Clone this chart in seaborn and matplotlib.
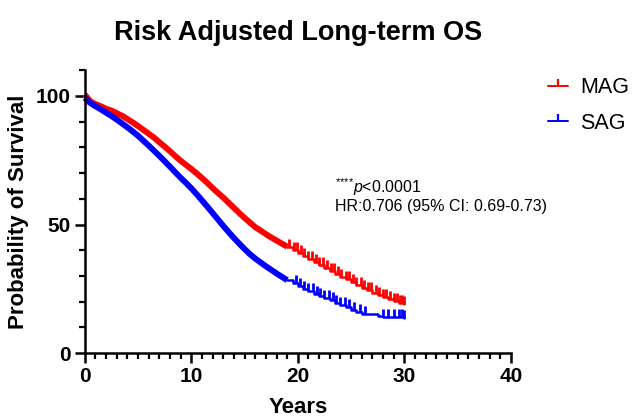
import numpy as np
import pandas as pd
import matplotlib
matplotlib.use("Agg")
import matplotlib.pyplot as plt
from matplotlib.lines import Line2D
from matplotlib.ticker import MultipleLocator
import seaborn as sns

# ---------------- data ----------------
years = [0, 0.5, 1, 1.5, 2, 2.5, 3, 3.5, 4, 4.5, 5, 5.5, 6, 6.5, 7, 7.5, 8, 8.5, 9, 9.5,
         10, 10.5, 11, 11.5, 12, 12.5, 13, 13.5, 14, 14.5, 15, 15.5, 16, 16.5, 17, 17.5,
         18, 18.5, 19, 19.5, 20, 20.5, 21, 21.5, 22, 22.5, 23, 23.5, 24, 24.5, 25, 25.5,
         26, 26.5, 27, 27.5, 28, 28.5, 29, 29.5, 30]
mag_surv = [100.5, 98, 96.8, 96, 95, 94.3, 93.3, 92.3, 91, 89.7, 88.3, 86.8, 85.3, 83.8, 82,
            80.3, 78.5, 76.6, 74.8, 73.2, 71.6, 69.9, 68.1, 66.2, 64.2, 62.3, 60.5, 58.5,
            56.5, 54.5, 52.6, 50.8, 49, 47.7, 46.3, 45, 43.8, 42.6, 41.4, 40.3, 39, 37.8,
            36.6, 35.4, 34.2, 33.2, 32, 30.9, 29.8, 28.7, 27.6, 26.5, 25.5, 24.5, 23.5,
            22.6, 21.8, 21, 20.3, 19.6, 19.0]
sag_surv = [99.3, 97.3, 96, 94.8, 93.5, 92.2, 90.8, 89.3, 87.8, 86.2, 84.5, 82.6, 80.7, 78.7,
            76.7, 74.6, 72.5, 70.3, 68.2, 66.2, 64.1, 61.8, 59.4, 57, 54.5, 52, 49.5, 47.1,
            44.8, 42.6, 40.5, 38.5, 36.8, 35.3, 33.8, 32.4, 31, 29.7, 28.4, 27.2, 26, 25,
            24, 23.1, 22.2, 21.4, 20.5, 19.6, 18.7, 17.8, 16.9, 16, 15.2, 15.1, 15.1, 14.5,
            14.1, 14.1, 14.1, 14.1, 13.6]
mag_censor = [19.2, 19.6, 19.9, 20.3, 20.6, 21.0, 21.3, 21.7, 22.0, 22.4, 22.7, 23.1, 23.4,
              23.8, 24.1, 24.5, 24.8, 25.2, 25.5, 25.9, 26.2, 26.6, 26.9, 27.3, 27.6, 28.0,
              28.3, 28.7, 29.0, 29.3, 29.6, 29.8, 30.0]
sag_censor = [19.8, 20.2, 20.6, 21.0, 21.4, 21.8, 22.1, 22.5, 22.9, 23.3, 23.6, 24.0, 24.4,
              24.8, 25.3, 25.8, 26.3, 28.0, 28.5, 29.0, 29.5, 29.8, 30.0]
groups = ["MAG", "SAG"]
palette = {"MAG": "#ff0000", "SAG": "#0000ff"}
x_ticks = [0, 10, 20, 30, 40]
y_ticks = [0, 50, 100]
title = "Risk Adjusted Long-term OS"
annot_p = r"$^{{*}{*}{*}{*}}\mathit{p}$<0.0001"
annot_hr = "HR:0.706 (95% CI: 0.69-0.73)"

df = pd.DataFrame({
    "Years": years * 2,
    "Survival": mag_surv + sag_surv,
    "Group": ["MAG"] * len(years) + ["SAG"] * len(years),
})
censors = {"MAG": mag_censor, "SAG": sag_censor}

# ---------------- styling ----------------
sns.set_theme(style="ticks")
plt.rcParams["font.family"] = ["Liberation Sans", "DejaVu Sans"]
plt.rcParams["mathtext.fontset"] = "custom"
plt.rcParams["mathtext.rm"] = "Liberation Sans"
plt.rcParams["mathtext.it"] = "Liberation Sans:italic"
plt.rcParams["mathtext.bf"] = "Liberation Sans:bold"
for k in ["text.color", "axes.labelcolor", "xtick.color", "ytick.color", "axes.edgecolor"]:
    plt.rcParams[k] = "black"

fig = plt.figure(figsize=(6.33, 4.18), dpi=100)
ax = fig.add_axes([0.134, 0.155, 0.673, 0.677])

split = 19.0
early = df[df["Years"] <= split]
late = df[df["Years"] >= split]

# dense-censor region: thick band
sns.lineplot(data=early, x="Years", y="Survival", hue="Group", palette=palette,
             estimator=None, linewidth=4.3, legend=False, ax=ax, clip_on=False,
             solid_capstyle="butt")
# tail: step curve
sns.lineplot(data=late, x="Years", y="Survival", hue="Group", palette=palette,
             estimator=None, linewidth=1.8, drawstyle="steps-post", legend=False, ax=ax)

for g in groups:
    sub = df[df["Group"] == g]
    t = sub["Years"].to_numpy()
    s = sub["Survival"].to_numpy()
    c = np.array(censors[g])
    idx = np.searchsorted(t, c, side="right") - 1
    ax.plot(c, s[idx], linestyle="none", marker=2, markersize=5.5, markeredgewidth=2.0,
            color=palette[g])

ax.set_xlim(0, 40)
ax.set_ylim(0, 110)
ax.set_xticks(x_ticks)
ax.set_yticks(y_ticks)
ax.xaxis.set_minor_locator(MultipleLocator(1))
ax.yaxis.set_minor_locator(MultipleLocator(10))
ax.tick_params(axis="both", which="major", length=7, width=1.8, labelsize=15, pad=3)
ax.tick_params(axis="both", which="minor", length=4, width=1.6)
for lab in ax.get_xticklabels() + ax.get_yticklabels():
    lab.set_fontweight("bold")
for sp in ["top", "right"]:
    ax.spines[sp].set_visible(False)
for sp in ["left", "bottom"]:
    ax.spines[sp].set_linewidth(1.8)

ax.set_xlabel("Years", fontsize=16, fontweight="bold", labelpad=8)
ax.set_ylabel("Probability of Survival", fontsize=16, fontweight="bold", labelpad=5)
ax.set_title(title, fontsize=19.5, fontweight="bold", pad=22)

ax.text(23.45, 64.5, annot_p, fontsize=11.5, va="center", ha="left")
ax.text(23.45, 57.0, annot_hr, fontsize=11.5, va="center", ha="left")

handles = [Line2D([0], [0], color=palette[g], lw=1.4, marker=2, markersize=5,
                  markeredgewidth=1.6) for g in groups]
fig.legend(handles, groups, loc="upper left", bbox_to_anchor=(0.866, 0.815),
           frameon=False, fontsize=15.5, handlelength=0.9, handletextpad=0.6,
           labelspacing=0.68, borderpad=0, borderaxespad=0, numpoints=1)

fig.savefig("out.png", dpi=100)
